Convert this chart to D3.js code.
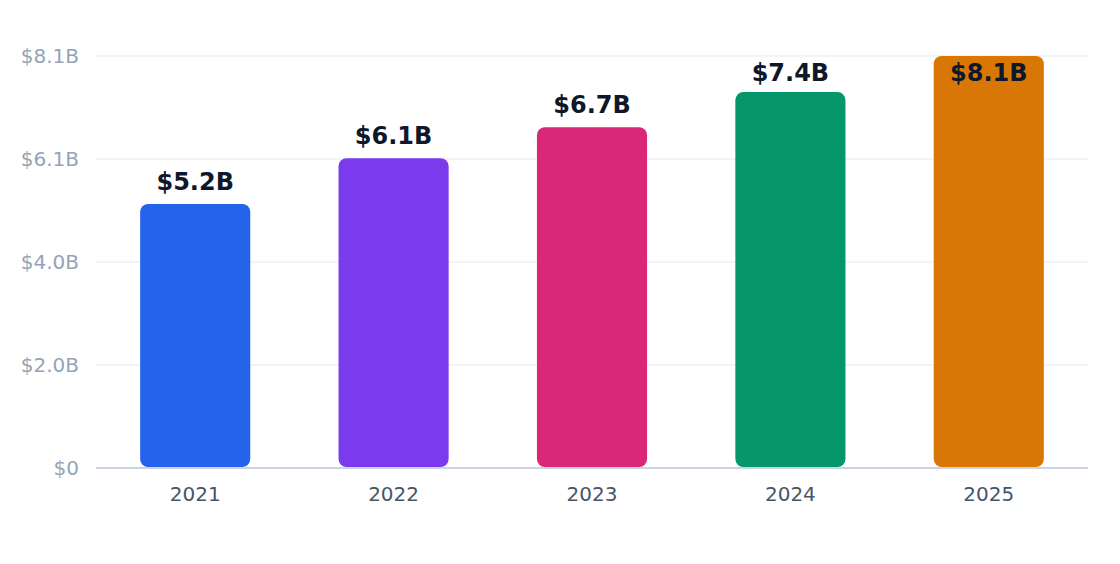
<!DOCTYPE html>
<html>
<head>
<meta charset="utf-8">
<script src="https://cdn.jsdelivr.net/npm/d3@7"></script>
<style>
    body { margin: 0; background: #ffffff; }
    text { font-family: "DejaVu Sans", sans-serif; }
</style>
</head>
<body>
<div id="chart"></div>
<script>
// data
const years = ["2021", "2022", "2023", "2024", "2025"];
const revenue = [5.19, 6.09, 6.70, 7.39, 8.1];
const barColors = ["#2563eb", "#7c3aed", "#db2777", "#059669", "#d97706"];
const yTicks = [0, 2.025, 4.05, 6.075, 8.1];

const W = 1120, H = 564;
const margin = {top: 56, right: 32, bottom: 96, left: 96};
const width = W - margin.left - margin.right;
const height = H - margin.top - margin.bottom;

const svg = d3.select("#chart").append("svg")
    .attr("width", W)
    .attr("height", H)
    .append("g")
    .attr("transform", "translate(" + margin.left + "," + margin.top + ")");

const x = d3.scaleBand()
    .domain(years)
    .range([0, width])
    .paddingInner(0.445)
    .paddingOuter(0.2225);

const y = d3.scaleLinear()
    .domain([0, 8.1])
    .range([height, 0]);

const fmt = v => v === 0 ? "$0" : "$" + v.toFixed(1) + "B";

// gridlines
svg.selectAll(".grid")
    .data(yTicks.slice(1))
    .enter().append("line")
    .attr("class", "grid")
    .attr("x1", 0).attr("x2", width)
    .attr("y1", d => y(d)).attr("y2", d => y(d))
    .style("stroke", "#f1f5f9")
    .style("stroke-width", 2);

// y labels
svg.selectAll(".y-label")
    .data(yTicks)
    .enter().append("text")
    .attr("class", "y-label")
    .attr("x", -17)
    .attr("y", d => y(d))
    .attr("dy", "0.35em")
    .attr("text-anchor", "end")
    .style("font-size", "20px")
    .style("fill", "#94a3b8")
    .text(d => fmt(d));

// bars
svg.selectAll(".bar")
    .data(revenue)
    .enter().append("rect")
    .attr("class", "bar")
    .attr("x", (d, i) => x(years[i]))
    .attr("y", d => y(d))
    .attr("width", x.bandwidth())
    .attr("height", d => height - y(d) - 1)
    .attr("rx", 8)
    .style("fill", (d, i) => barColors[i]);

// baseline
svg.append("line")
    .attr("x1", 0).attr("x2", width)
    .attr("y1", y(0)).attr("y2", y(0))
    .style("stroke", "#cbd5e1")
    .style("stroke-width", 2);

// value labels
svg.selectAll(".bar-value")
    .data(revenue)
    .enter().append("text")
    .attr("class", "bar-value")
    .attr("x", (d, i) => x(years[i]) + x.bandwidth() / 2)
    .attr("y", d => Math.max(y(d) - 14, 25))
    .attr("text-anchor", "middle")
    .style("font-size", "24px")
    .style("font-weight", "bold")
    .style("fill", "#0f172a")
    .text(d => "$" + d.toFixed(1) + "B");

// x labels
svg.selectAll(".x-label")
    .data(years)
    .enter().append("text")
    .attr("class", "x-label")
    .attr("x", d => x(d) + x.bandwidth() / 2)
    .attr("y", height + 33)
    .attr("text-anchor", "middle")
    .style("font-size", "20px")
    .style("fill", "#475569")
    .text(d => d);
</script>
</body>
</html>
